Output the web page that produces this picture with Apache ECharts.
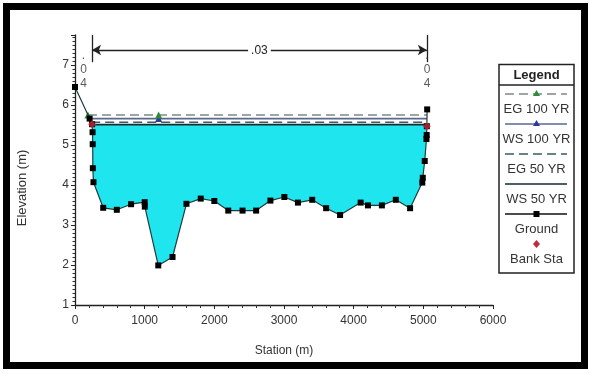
<!DOCTYPE html>
<html><head><meta charset="utf-8">
<script src="https://cdn.jsdelivr.net/npm/echarts@6/dist/echarts.min.js"></script>
<style>html,body{margin:0;padding:0;background:#fff}#c{width:589px;height:374px}</style>
</head><body><div id="c"></div>
<script>
// ---- data ----
const groundStations = [0, 210, 245, 252, 254, 256, 265, 405, 600, 805, 1000, 1002, 1195, 1400, 1600, 1805, 2000, 2200, 2405, 2600, 2805, 3005, 3200, 3405, 3605, 3805, 4100, 4205, 4405, 4605, 4810, 4985, 4992, 5020, 5045, 5048, 5050, 5055];
const groundElev     = [6.45, 5.66, 5.52, 5.32, 5.02, 4.42, 4.07, 3.43, 3.38, 3.52, 3.57, 3.46, 1.99, 2.20, 3.53, 3.66, 3.60, 3.36, 3.36, 3.36, 3.61, 3.70, 3.56, 3.63, 3.42, 3.25, 3.56, 3.49, 3.49, 3.63, 3.42, 4.06, 4.18, 4.60, 5.15, 5.25, 5.47, 5.89];
const bankStations = [245, 5050];
const bankElev = [5.52, 5.47];
const profileNames = ['EG 100 YR', 'WS 100 YR', 'EG 50 YR', 'WS 50 YR'];
const profileElev = [5.75, 5.66, 5.57, 5.51];
const profileMarkerStation = 1200;
const nValues = [0.04, 0.03, 0.04];
const legendExtra = ['Ground', 'Bank Sta'];
const xAxisTicks = [0, 1000, 2000, 3000, 4000, 5000, 6000];
const yAxisTicks = [1, 2, 3, 4, 5, 6, 7];
const xAxisTitle = 'Station (m)';
const yAxisTitle = 'Elevation (m)';

// ---- helpers ----
const FONT = 'Liberation Sans, Arial, sans-serif';
const n = groundStations.length;
function crossings(level) {
  let i = 0;
  while (i < n - 1 && !(groundElev[i] >= level && groundElev[i + 1] < level)) i++;
  const xl = groundStations[i] + (groundStations[i + 1] - groundStations[i]) * (groundElev[i] - level) / (groundElev[i] - groundElev[i + 1]);
  let j = n - 1;
  while (j > 0 && !(groundElev[j] >= level && groundElev[j - 1] < level)) j--;
  const xr = groundStations[j - 1] + (groundStations[j] - groundStations[j - 1]) * (level - groundElev[j - 1]) / (groundElev[j] - groundElev[j - 1]);
  return { i, j, xl, xr };
}
function fillPoints(level) {
  const c = crossings(level);
  const pts = [[c.xl, level]];
  for (let k = c.i + 1; k <= c.j - 1; k++) pts.push([groundStations[k], groundElev[k]]);
  pts.push([c.xr, level]);
  return pts;
}
function nText(v) { return String(v).replace(/^0/, '').split('').join('\n'); }

const profileStyles = [
  { color: '#7b8a80', type: [9, 5], sym: 'triangle', symColor: '#2e8b3a', marks: 'both' },
  { color: '#5a6790', type: 'solid', sym: 'triangle', symColor: '#2a3a9a', marks: 'mid' },
  { color: '#3a5a66', type: [9, 5], sym: 'none', symColor: null, marks: 'none' },
  { color: '#1a2a2a', type: 'solid', sym: 'none', symColor: null, marks: 'none' }
];

const xMin = xAxisTicks[0], xMax = xAxisTicks[xAxisTicks.length - 1];
const yMin = yAxisTicks[0], yMax = 7.75;
const groundData = groundStations.map((s, i) => [s, groundElev[i]]);
const wsFill = profileElev[3];

const series = [];
series.push({
  type: 'custom', name: 'fill', coordinateSystem: 'cartesian2d', silent: true, z: 1,
  data: [[crossings(wsFill).xl, wsFill]],
  renderItem: function (params, api) {
    const pts = fillPoints(wsFill).map(p => api.coord(p));
    return { type: 'polygon', shape: { points: pts }, style: { fill: '#1fe6ee', stroke: null } };
  }
});
profileElev.forEach((e, k) => {
  const c = crossings(e);
  const st = profileStyles[k];
  const data = [
    { value: [c.xl, e], symbol: st.marks === 'both' ? st.sym : 'none' },
    { value: [profileMarkerStation, e], symbol: st.marks !== 'none' ? st.sym : 'none' },
    { value: [c.xr, e], symbol: 'none' }
  ];
  series.push({
    type: 'line', name: profileNames[k], data: data, z: 3 + (3 - k),
    symbolSize: 7, showSymbol: true,
    lineStyle: { color: st.color, width: 1.6, type: st.type },
    itemStyle: { color: st.symColor || st.color }
  });
});
series.push({
  type: 'line', name: 'Ground', data: groundData, z: 8,
  symbol: 'rect', symbolSize: 6, showSymbol: true,
  lineStyle: { color: '#1e3c3c', width: 1.2 },
  itemStyle: { color: '#000' },
  markLine: {
    silent: true, animation: false, symbolSize: [8, 9],
    lineStyle: { color: '#222', width: 1.3, type: 'solid' },
    label: { show: false },
    data: [
      [{ coord: [bankStations[0], yMax], symbol: 'none' }, { coord: [bankStations[0], 7.07], symbol: 'none' }],
      [{ coord: [bankStations[1], yMax], symbol: 'none' }, { coord: [bankStations[1], 7.07], symbol: 'none' }],
      [{ coord: [bankStations[0], 7.375], symbol: 'arrow' },
       { coord: [bankStations[1], 7.375], symbol: 'arrow',
         label: { show: true, position: 'middle', formatter: nText(nValues[1]).replace(/\n/g, ''), color: '#222', fontSize: 12, fontFamily: FONT, backgroundColor: '#fff', padding: [1, 3], distance: 0, offset: [0, 8] } }]
    ]
  }
});
series.push({
  type: 'scatter', name: 'Bank Sta', z: 9,
  data: bankStations.map((s, i) => [s, bankElev[i]]),
  symbol: 'diamond', symbolSize: 8, itemStyle: { color: '#c8283c' }
});
series.push({
  type: 'scatter', name: 'nvals', z: 9, silent: true, symbolSize: 0,
  data: [
    { value: [(groundStations[0] + bankStations[0]) / 2, 6.875], nv: nValues[0] },
    { value: [(bankStations[1] + groundStations[n - 1]) / 2, 6.875], nv: nValues[2] }
  ],
  label: {
    show: true, position: 'inside', color: '#333', fontSize: 12, fontFamily: FONT, lineHeight: 14, align: 'center',
    formatter: p => nText(p.data.nv)
  }
});

// ---- legend, axis title & frame (graphic) ----
const gfx = [];
gfx.push({ type: 'rect', shape: { x: 6.5, y: 6.5, width: 578, height: 359 }, style: { fill: null, stroke: '#000', lineWidth: 7 }, z: 100 });
gfx.push({ type: 'text', x: 22, y: 188, rotation: Math.PI / 2, style: { text: yAxisTitle, font: '13px ' + FONT, fill: '#333', align: 'center', verticalAlign: 'middle' }, z: 10 });
const LX = 499, LY = 64.5, LW = 75, LH = 208.5;
gfx.push({ type: 'rect', shape: { x: LX, y: LY, width: LW, height: LH }, style: { fill: '#fff', stroke: '#222', lineWidth: 1.5 }, z: 50 });
gfx.push({ type: 'text', x: LX + LW / 2, y: 75, style: { text: 'Legend', font: 'bold 13px ' + FONT, fill: '#222', align: 'center', verticalAlign: 'middle' }, z: 51 });
gfx.push({ type: 'line', shape: { x1: LX, y1: 85, x2: LX + LW, y2: 85 }, style: { stroke: '#222', lineWidth: 1.3 }, z: 51 });
const legendLabels = profileNames.concat(legendExtra);
const cx = LX + LW / 2;
legendLabels.forEach((lab, i) => {
  const sy = 94 + 30 * i;
  if (i < 4) {
    const st = profileStyles[i];
    gfx.push({ type: 'line', shape: { x1: 505, y1: sy, x2: 567, y2: sy }, style: { stroke: st.color, lineWidth: 1.6, lineDash: st.type === 'solid' ? null : st.type }, z: 51 });
    if (st.sym === 'triangle') gfx.push({ type: 'polygon', shape: { points: [[cx, sy - 4], [cx - 3.5, sy + 2], [cx + 3.5, sy + 2]] }, style: { fill: st.symColor }, z: 52 });
  } else if (i === 4) {
    gfx.push({ type: 'line', shape: { x1: 505, y1: sy, x2: 567, y2: sy }, style: { stroke: '#111', lineWidth: 1.6 }, z: 51 });
    gfx.push({ type: 'rect', shape: { x: cx - 3, y: sy - 3, width: 6, height: 6 }, style: { fill: '#000' }, z: 52 });
  } else {
    gfx.push({ type: 'polygon', shape: { points: [[cx, sy - 4], [cx + 3.5, sy], [cx, sy + 4], [cx - 3.5, sy]] }, style: { fill: '#c8283c' }, z: 52 });
  }
  gfx.push({ type: 'text', x: cx, y: sy + 15.5, style: { text: lab, font: '13px ' + FONT, fill: '#333', align: 'center', verticalAlign: 'middle' }, z: 52 });
});

const chart = echarts.init(document.getElementById('c'), null, { renderer: 'canvas' });
chart.setOption({
  animation: false,
  backgroundColor: '#fff',
  grid: { left: 75, right: 96, top: 35, bottom: 69, containLabel: false },
  xAxis: {
    type: 'value', min: xMin, max: xMax, interval: 1000,
    name: xAxisTitle, nameLocation: 'middle', nameGap: 40,
    nameTextStyle: { fontSize: 12, fontFamily: FONT, color: '#333' },
    axisLine: { show: true, onZero: false, lineStyle: { color: '#222', width: 1.3 } },
    axisTick: { show: true, length: 4, lineStyle: { color: '#222' } },
    minorTick: { show: true, splitNumber: 5, length: 3, lineStyle: { color: '#333' } },
    axisLabel: { fontSize: 12, fontFamily: FONT, color: '#333', margin: 10, formatter: v => String(v) },
    splitLine: { show: false }
  },
  yAxis: {
    type: 'value', min: yMin, max: yMax, interval: 1,
    axisLine: { show: true, onZero: false, lineStyle: { color: '#222', width: 1.3 } },
    axisTick: { show: true, length: 4, lineStyle: { color: '#222' } },
    minorTick: { show: true, splitNumber: 10, length: 2.5, lineStyle: { color: '#333' } },
    axisLabel: { fontSize: 12, fontFamily: FONT, color: '#333', margin: 6, showMaxLabel: false, formatter: v => String(v) },
    splitLine: { show: false }
  },
  series: series,
  graphic: gfx
});
</script></body></html>
